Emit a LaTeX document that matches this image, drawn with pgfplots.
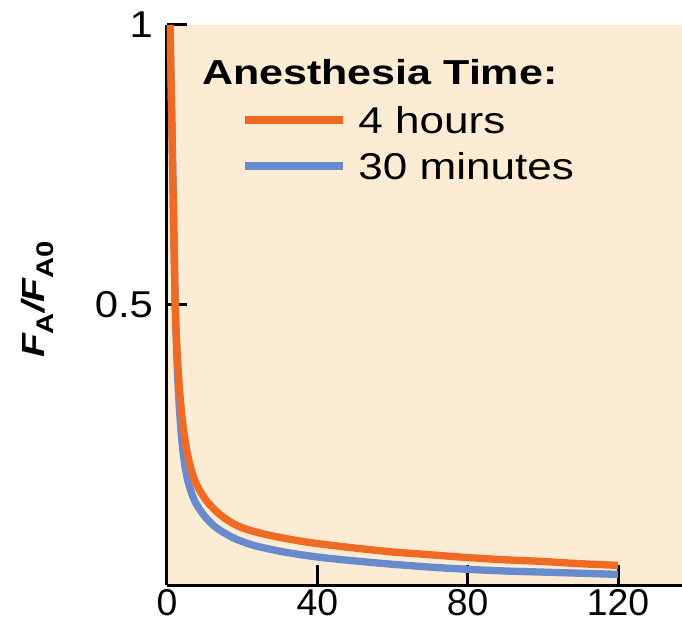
\documentclass[border=0pt]{standalone}
\usepackage{fontspec}
\setmainfont{Liberation Sans}
\newfontfamily\legfont[FakeStretch=1.18]{Liberation Sans}
\newfontfamily\titlefont[FakeStretch=1.24]{Liberation Sans}
\newfontfamily\labfont[FakeStretch=1.22]{Liberation Sans}
\newfontfamily\yfont[FakeStretch=1.12]{Liberation Sans}
\usepackage{pgfplots}
\pgfplotsset{compat=1.18}

\definecolor{panel}{RGB}{253,236,212}
\definecolor{longcol}{RGB}{240,106,35}
\definecolor{shortcol}{RGB}{104,139,206}

\newcommand\sub[1]{\raisebox{-0.28em}{\fontsize{18}{20}\selectfont\bfseries\upshape #1}}

\begin{document}
\begin{tikzpicture}
\begin{axis}[
  scale only axis, width=386.25pt, height=420pt,
  xmin=0, xmax=137, ymin=0, ymax=1,
  axis x line=bottom, axis y line=left,
  axis line style={-, line width=2.25pt, black},
  axis background/.style={fill=panel},
  xtick={0,40,80,120}, ytick={0.5,1},
  tick align=inside, major tick length=15pt,
  tick style={line width=2.25pt, black},
  /pgf/number format/assume math mode=true,
  ticklabel style={font=\fontsize{28}{32}\selectfont},
  yticklabel style={xshift=-7pt, font=\yfont\fontsize{28}{32}\selectfont},
  ylabel={\labfont\bfseries\itshape F\sub{A}/F\sub{A0}},
  ylabel style={at={(axis description cs:-0.252,0.51)}, anchor=center,
                font=\fontsize{24}{28}\selectfont},
  legend style={at={(axis cs:19.9,0.854)}, anchor=north west,
                draw=none, fill=none, inner sep=0pt, outer sep=0pt,
                column sep=8.5pt, row sep=14.5pt,
                font={\legfont\fontsize{28}{32}\selectfont},
                nodes={inner sep=0pt, text height=20pt, text depth=0pt}},
  legend cell align=left,
  legend image code/.code={\draw[#1] (0pt,0pt) -- (73.5pt,0pt);},
  reverse legend,
]
% 30 minute anesthesia
\addplot[shortcol, line width=5.5pt, line join=round, smooth, tension=0.55] coordinates {
  (0.8,1.0) (1.5,0.75) (2.2,0.5) (2.8,0.38) (3.4,0.305) (4.1,0.248) (4.8,0.212)
  (5.7,0.182) (7,0.156) (8.3,0.139) (10.5,0.119) (12.8,0.104) (15,0.094)
  (18,0.083) (22,0.073) (26,0.066) (32,0.058) (40,0.050) (50,0.043)
  (60,0.037) (70,0.032) (80,0.028) (90,0.025) (100,0.023) (110,0.021) (120,0.019)
};
\addlegendentry{30 minutes}
% 4 hour anesthesia
\addplot[longcol, line width=5.5pt, line join=round, smooth, tension=0.55] coordinates {
  (0.8,1.0) (1.5,0.75) (2.2,0.5) (2.8,0.405) (3.5,0.335) (4.3,0.283) (5.2,0.243)
  (6.5,0.205) (7.9,0.179) (10,0.155) (12,0.139) (15,0.121) (19,0.105)
  (24,0.094) (30,0.085) (35,0.079) (40,0.074) (50,0.066) (60,0.059)
  (70,0.054) (80,0.049) (90,0.045) (100,0.042) (110,0.038) (120,0.035)
};
\addlegendentry{4 hours}

\node[anchor=base west, inner sep=0pt] at (axis cs:9.3,0.893)
  {\titlefont\fontsize{26}{30}\selectfont\bfseries Anesthesia Time:};
\end{axis}
\pgfresetboundingbox
\path[use as bounding box]
  ([xshift=-125.25pt, yshift=-35.25pt]current axis.south west)
  rectangle ([yshift=18.75pt]current axis.north east);
\end{tikzpicture}
\end{document}
